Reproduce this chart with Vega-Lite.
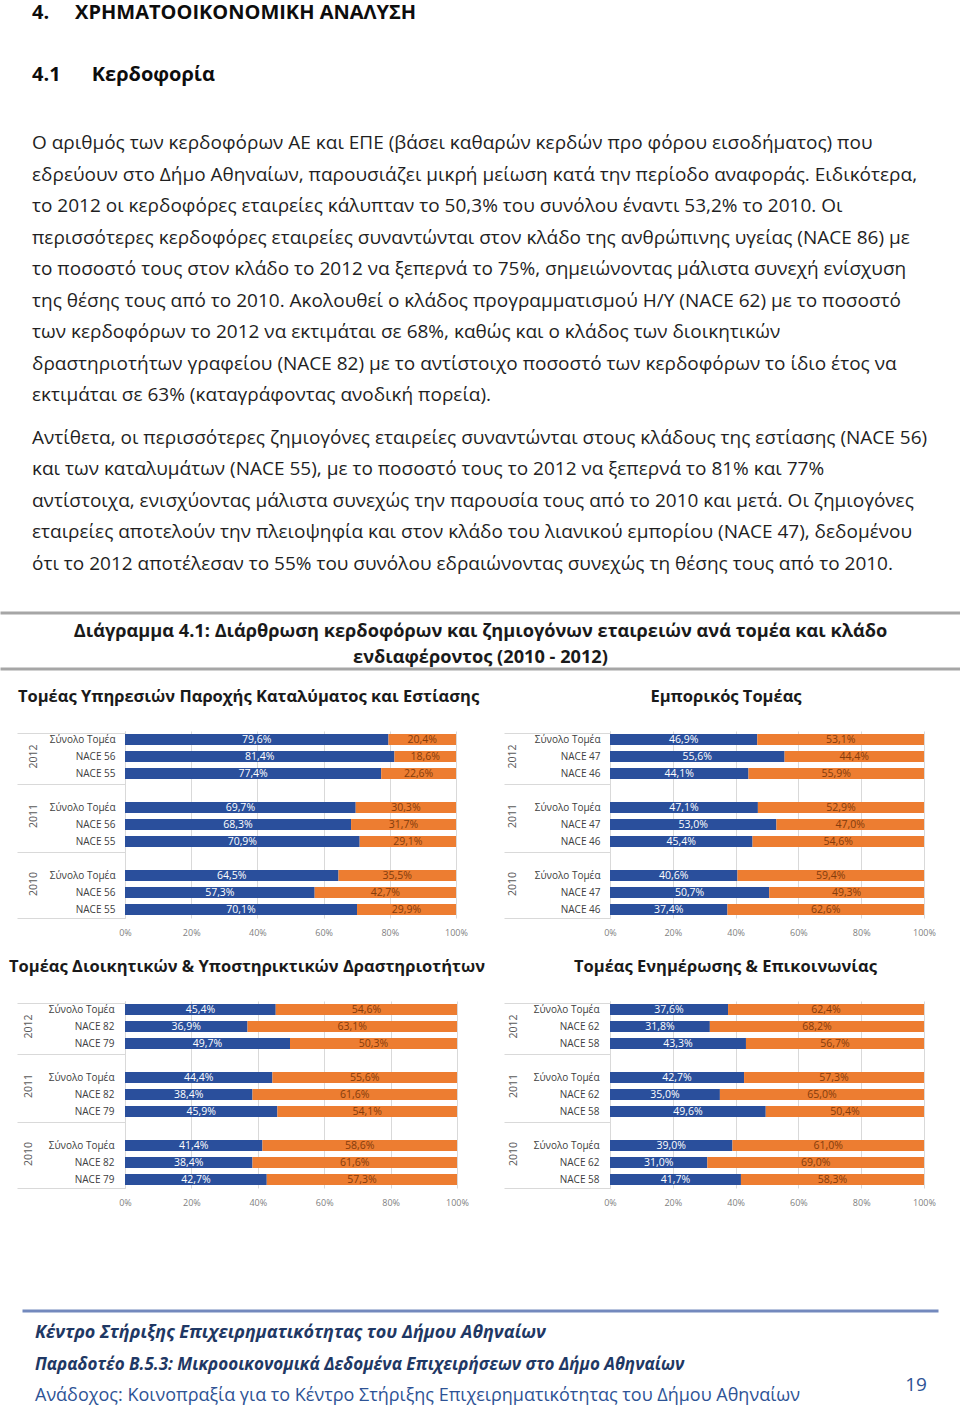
{
  "$schema": "https://vega.github.io/schema/vega-lite/v6.json",
  "background": "white",
  "padding": 0,
  "spacing": 0,
  "config": {
    "font": "Open Sans",
    "view": {"stroke": null},
    "locale": {"number": {"decimal": ",", "thousands": ".", "grouping": [3], "currency": ["", " €"]}}
  },
  "vconcat": [
    {"width": 1, "height": 3, "data": {"values": []}, "mark": "point"},
    {
      "width": 957, "height": 0.01, "data": {"values": []}, "mark": "point",
      "title": {"text": "4.\u00a0\u00a0\u00a0\u00a0\u00a0ΧΡΗΜΑΤΟΟΙΚΟΝΟΜΙΚΗ ΑΝΑΛΥΣΗ", "anchor": "start", "frame": "group", "dx": 30, "offset": 39.8, "fontSize": 20, "fontWeight": "bold", "color": "#0d0d0d"}
    },
    {
      "width": 957, "height": 0.01, "data": {"values": []}, "mark": "point",
      "title": {
        "text": "4.1\u00a0\u00a0\u00a0\u00a0\u00a0\u00a0Κερδοφορία",
        "anchor": "start", "frame": "group", "dx": 30, "offset": 22,
        "fontSize": 20, "fontWeight": "bold", "color": "#0d0d0d",
        "subtitle": [
          "Ο αριθμός των κερδοφόρων ΑΕ και ΕΠΕ (βάσει καθαρών κερδών προ φόρου εισοδήματος) που",
          "εδρεύουν στο Δήμο Αθηναίων, παρουσιάζει μικρή μείωση κατά την περίοδο αναφοράς. Ειδικότερα,",
          "το 2012 οι κερδοφόρες εταιρείες κάλυπταν το 50,3% του συνόλου έναντι 53,2% το 2010. Οι",
          "περισσότερες κερδοφόρες εταιρείες συναντώνται στον κλάδο της ανθρώπινης υγείας (NACE 86) με",
          "το ποσοστό τους στον κλάδο το 2012 να ξεπερνά το 75%, σημειώνοντας μάλιστα συνεχή ενίσχυση",
          "της θέσης τους από το 2010. Ακολουθεί ο κλάδος προγραμματισμού Η/Υ (NACE 62) με το ποσοστό",
          "των κερδοφόρων το 2012 να εκτιμάται σε 68%, καθώς και ο κλάδος των διοικητικών",
          "δραστηριοτήτων γραφείου (NACE 82) με το αντίστοιχο ποσοστό των κερδοφόρων το ίδιο έτος να",
          "εκτιμάται σε 63% (καταγράφοντας ανοδική πορεία)."
        ],
        "subtitleFont": "Open Sans", "subtitleFontSize": 19, "subtitleColor": "#1f1f1f",
        "subtitleLineHeight": 31.5, "subtitlePadding": 49.5
      }
    },
    {
      "width": 957, "height": 0.01, "data": {"values": []}, "mark": "point",
      "title": {
        "text": [
          "Αντίθετα, οι περισσότερες ζημιογόνες εταιρείες συναντώνται στους κλάδους της εστίασης (NACE 56)",
          "και των καταλυμάτων (NACE 55), με το ποσοστό τους το 2012 να ξεπερνά το 81% και 77%",
          "αντίστοιχα, ενισχύοντας μάλιστα συνεχώς την παρουσία τους από το 2010 και μετά. Οι ζημιογόνες",
          "εταιρείες αποτελούν την πλειοψηφία και στον κλάδο του λιανικού εμπορίου (NACE 47), δεδομένου",
          "ότι το 2012 αποτέλεσαν το 55% του συνόλου εδραιώνοντας συνεχώς τη θέσης τους από το 2010."
        ],
        "anchor": "start", "frame": "group", "dx": 30, "offset": 36.2,
        "fontSize": 19, "fontWeight": "normal", "color": "#1f1f1f", "lineHeight": 31.5
      }
    },
    {"width": 957, "height": 0.01, "data": {"values": []}, "mark": "point", "view": {"stroke": "#a6a6a6", "strokeWidth": 3}},
    {"width": 1, "height": 4.2, "data": {"values": []}, "mark": "point"},
    {
      "width": 957, "height": 0.01, "data": {"values": []}, "mark": "point",
      "view": {"stroke": "#a6a6a6", "strokeWidth": 3},
      "title": {
        "text": ["Διάγραμμα 4.1: Διάρθρωση κερδοφόρων και ζημιογόνων εταιρειών ανά τομέα και κλάδο", "ενδιαφέροντος (2010 - 2012)"],
        "anchor": "middle", "frame": "group", "offset": 2.3,
        "fontSize": 18.2, "fontWeight": "bold", "color": "#1a1a1a", "lineHeight": 26
      }
    },
    {"width": 1, "height": 16.9, "data": {"values": []}, "mark": "point"},
    {
      "bounds": "flush", "spacing": 0,
      "hconcat": [
        {"width": 123, "height": 0.01, "data": {"values": []}, "mark": "point"},
        {
          "width": 331, "height": 187,
          "title": {"text": "Τομέας Υπηρεσιών Παροχής Καταλύματος και Εστίασης", "anchor": "middle", "frame": "group", "dx": -42, "offset": 25.6, "fontSize": 16.5, "fontWeight": "bold", "color": "#1a1a1a"},
          "data": {"values": [
            {"key": "2012|Σύνολο Τομέα", "result": "κερδοφόρες", "share": 0.796},
            {"key": "2012|Σύνολο Τομέα", "result": "ζημιογόνες", "share": 0.204},
            {"key": "2012|NACE 56", "result": "κερδοφόρες", "share": 0.814},
            {"key": "2012|NACE 56", "result": "ζημιογόνες", "share": 0.186},
            {"key": "2012|NACE 55", "result": "κερδοφόρες", "share": 0.774},
            {"key": "2012|NACE 55", "result": "ζημιογόνες", "share": 0.226},
            {"key": "2011|Σύνολο Τομέα", "result": "κερδοφόρες", "share": 0.697},
            {"key": "2011|Σύνολο Τομέα", "result": "ζημιογόνες", "share": 0.303},
            {"key": "2011|NACE 56", "result": "κερδοφόρες", "share": 0.683},
            {"key": "2011|NACE 56", "result": "ζημιογόνες", "share": 0.317},
            {"key": "2011|NACE 55", "result": "κερδοφόρες", "share": 0.709},
            {"key": "2011|NACE 55", "result": "ζημιογόνες", "share": 0.291},
            {"key": "2010|Σύνολο Τομέα", "result": "κερδοφόρες", "share": 0.645},
            {"key": "2010|Σύνολο Τομέα", "result": "ζημιογόνες", "share": 0.355},
            {"key": "2010|NACE 56", "result": "κερδοφόρες", "share": 0.573},
            {"key": "2010|NACE 56", "result": "ζημιογόνες", "share": 0.427},
            {"key": "2010|NACE 55", "result": "κερδοφόρες", "share": 0.701},
            {"key": "2010|NACE 55", "result": "ζημιογόνες", "share": 0.299}
          ]},
          "resolve": {"axis": {"y": "independent"}},
          "layer": [
            {
              "mark": {"type": "bar"},
              "encoding": {
                "y": {"field": "key", "type": "nominal",
                  "scale": {"domain": ["2012|Σύνολο Τομέα", "2012|NACE 56", "2012|NACE 55", "2011", "2011|Σύνολο Τομέα", "2011|NACE 56", "2011|NACE 55", "2010", "2010|Σύνολο Τομέα", "2010|NACE 56", "2010|NACE 55"], "paddingInner": 0.35, "paddingOuter": 0.175},
                  "axis": {"orient": "left", "title": null, "bandPosition": 1, "tickOffset": 3, "labelOffset": -3, "domain": true, "domainColor": "#d9d9d9", "ticks": true, "tickSize": 108, "tickColor": "#d9d9d9", "tickOpacity": {"condition": {"test": "datum.value == '2010|NACE 55'", "value": 1}, "value": 0}, "labelExpr": "indexof(datum.value, '|') > 0 ? split(datum.value, '|')[1] : ''", "labelPadding": -98, "labelAlign": "right", "labelBaseline": "middle", "labelFontSize": 10, "labelColor": "#404040"}},
                "x": {"field": "share", "type": "quantitative", "stack": "zero", "scale": {"domain": [0, 1]},
                  "axis": {"title": null, "format": ".0%", "values": [0, 0.2, 0.4, 0.6, 0.8, 1], "labelFlush": false, "grid": true, "gridColor": "#d9d9d9", "domain": false, "ticks": false, "labelPadding": 10, "labelFontSize": 9, "labelColor": "#7f7f7f"}},
                "color": {"field": "result", "type": "nominal", "scale": {"domain": ["κερδοφόρες", "ζημιογόνες"], "range": ["#2a4f9c", "#ed7d31"]}, "legend": null},
                "order": {"field": "result", "sort": "descending"}
              }
            },
            {
              "mark": {"type": "text", "fontSize": 10.5},
              "encoding": {
                "y": {"field": "key", "type": "nominal",
                  "axis": {"orient": "left", "title": null, "values": ["2012|Σύνολο Τομέα", "2011", "2010"], "bandPosition": 0, "domain": false, "ticks": true, "tickSize": 108, "tickColor": "#d9d9d9", "labelExpr": "slice(datum.value, 0, 4)", "labelAngle": -90, "labelAlign": "center", "labelBaseline": "middle", "labelPadding": -16, "labelOffset": {"condition": {"test": "datum.value == '2012|Σύνολο Τομέα'", "value": 17}, "value": 25.5}, "labelFontSize": 10.5, "labelColor": "#595959"}},
                "x": {"field": "share", "type": "quantitative", "stack": "zero", "bandPosition": 0.5},
                "detail": {"field": "result"},
                "order": {"field": "result", "sort": "descending"},
                "text": {"field": "share", "type": "quantitative", "format": ".1%"},
                "color": {"condition": {"test": "datum.result == 'κερδοφόρες'", "value": "#ffffff"}, "value": "#843c0c"}
              }
            }
          ]
        },
        {"width": 154, "height": 0.01, "data": {"values": []}, "mark": "point"},
        {
          "width": 314, "height": 187,
          "title": {"text": "Εμπορικός Τομέας", "anchor": "middle", "frame": "group", "dx": -41, "offset": 25.6, "fontSize": 16.5, "fontWeight": "bold", "color": "#1a1a1a"},
          "data": {"values": [
            {"key": "2012|Σύνολο Τομέα", "result": "κερδοφόρες", "share": 0.469},
            {"key": "2012|Σύνολο Τομέα", "result": "ζημιογόνες", "share": 0.531},
            {"key": "2012|NACE 47", "result": "κερδοφόρες", "share": 0.556},
            {"key": "2012|NACE 47", "result": "ζημιογόνες", "share": 0.444},
            {"key": "2012|NACE 46", "result": "κερδοφόρες", "share": 0.441},
            {"key": "2012|NACE 46", "result": "ζημιογόνες", "share": 0.559},
            {"key": "2011|Σύνολο Τομέα", "result": "κερδοφόρες", "share": 0.471},
            {"key": "2011|Σύνολο Τομέα", "result": "ζημιογόνες", "share": 0.529},
            {"key": "2011|NACE 47", "result": "κερδοφόρες", "share": 0.530},
            {"key": "2011|NACE 47", "result": "ζημιογόνες", "share": 0.470},
            {"key": "2011|NACE 46", "result": "κερδοφόρες", "share": 0.454},
            {"key": "2011|NACE 46", "result": "ζημιογόνες", "share": 0.546},
            {"key": "2010|Σύνολο Τομέα", "result": "κερδοφόρες", "share": 0.406},
            {"key": "2010|Σύνολο Τομέα", "result": "ζημιογόνες", "share": 0.594},
            {"key": "2010|NACE 47", "result": "κερδοφόρες", "share": 0.507},
            {"key": "2010|NACE 47", "result": "ζημιογόνες", "share": 0.493},
            {"key": "2010|NACE 46", "result": "κερδοφόρες", "share": 0.374},
            {"key": "2010|NACE 46", "result": "ζημιογόνες", "share": 0.626}
          ]},
          "resolve": {"axis": {"y": "independent"}},
          "layer": [
            {
              "mark": {"type": "bar"},
              "encoding": {
                "y": {"field": "key", "type": "nominal",
                  "scale": {"domain": ["2012|Σύνολο Τομέα", "2012|NACE 47", "2012|NACE 46", "2011", "2011|Σύνολο Τομέα", "2011|NACE 47", "2011|NACE 46", "2010", "2010|Σύνολο Τομέα", "2010|NACE 47", "2010|NACE 46"], "paddingInner": 0.35, "paddingOuter": 0.175},
                  "axis": {"orient": "left", "title": null, "bandPosition": 1, "tickOffset": 3, "labelOffset": -3, "domain": true, "domainColor": "#d9d9d9", "ticks": true, "tickSize": 106, "tickColor": "#d9d9d9", "tickOpacity": {"condition": {"test": "datum.value == '2010|NACE 46'", "value": 1}, "value": 0}, "labelExpr": "indexof(datum.value, '|') > 0 ? split(datum.value, '|')[1] : ''", "labelPadding": -96, "labelAlign": "right", "labelBaseline": "middle", "labelFontSize": 10, "labelColor": "#404040"}},
                "x": {"field": "share", "type": "quantitative", "stack": "zero", "scale": {"domain": [0, 1]},
                  "axis": {"title": null, "format": ".0%", "values": [0, 0.2, 0.4, 0.6, 0.8, 1], "labelFlush": false, "grid": true, "gridColor": "#d9d9d9", "domain": false, "ticks": false, "labelPadding": 10, "labelFontSize": 9, "labelColor": "#7f7f7f"}},
                "color": {"field": "result", "type": "nominal", "scale": {"domain": ["κερδοφόρες", "ζημιογόνες"], "range": ["#2a4f9c", "#ed7d31"]}, "legend": null},
                "order": {"field": "result", "sort": "descending"}
              }
            },
            {
              "mark": {"type": "text", "fontSize": 10.5},
              "encoding": {
                "y": {"field": "key", "type": "nominal",
                  "axis": {"orient": "left", "title": null, "values": ["2012|Σύνολο Τομέα", "2011", "2010"], "bandPosition": 0, "domain": false, "ticks": true, "tickSize": 106, "tickColor": "#d9d9d9", "labelExpr": "slice(datum.value, 0, 4)", "labelAngle": -90, "labelAlign": "center", "labelBaseline": "middle", "labelPadding": -8, "labelOffset": {"condition": {"test": "datum.value == '2012|Σύνολο Τομέα'", "value": 17}, "value": 25.5}, "labelFontSize": 10.5, "labelColor": "#595959"}},
                "x": {"field": "share", "type": "quantitative", "stack": "zero", "bandPosition": 0.5},
                "detail": {"field": "result"},
                "order": {"field": "result", "sort": "descending"},
                "text": {"field": "share", "type": "quantitative", "format": ".1%"},
                "color": {"condition": {"test": "datum.result == 'κερδοφόρες'", "value": "#ffffff"}, "value": "#843c0c"}
              }
            }
          ]
        }
      ]
    },
    {"width": 1, "height": 20.9, "data": {"values": []}, "mark": "point"},
    {
      "bounds": "flush", "spacing": 0,
      "hconcat": [
        {"width": 123, "height": 0.01, "data": {"values": []}, "mark": "point"},
        {
          "width": 332, "height": 187,
          "title": {"text": "Τομέας Διοικητικών & Υποστηρικτικών Δραστηριοτήτων", "anchor": "middle", "frame": "group", "dx": -44, "offset": 25.6, "fontSize": 16.5, "fontWeight": "bold", "color": "#1a1a1a"},
          "data": {"values": [
            {"key": "2012|Σύνολο Τομέα", "result": "κερδοφόρες", "share": 0.454},
            {"key": "2012|Σύνολο Τομέα", "result": "ζημιογόνες", "share": 0.546},
            {"key": "2012|NACE 82", "result": "κερδοφόρες", "share": 0.369},
            {"key": "2012|NACE 82", "result": "ζημιογόνες", "share": 0.631},
            {"key": "2012|NACE 79", "result": "κερδοφόρες", "share": 0.497},
            {"key": "2012|NACE 79", "result": "ζημιογόνες", "share": 0.503},
            {"key": "2011|Σύνολο Τομέα", "result": "κερδοφόρες", "share": 0.444},
            {"key": "2011|Σύνολο Τομέα", "result": "ζημιογόνες", "share": 0.556},
            {"key": "2011|NACE 82", "result": "κερδοφόρες", "share": 0.384},
            {"key": "2011|NACE 82", "result": "ζημιογόνες", "share": 0.616},
            {"key": "2011|NACE 79", "result": "κερδοφόρες", "share": 0.459},
            {"key": "2011|NACE 79", "result": "ζημιογόνες", "share": 0.541},
            {"key": "2010|Σύνολο Τομέα", "result": "κερδοφόρες", "share": 0.414},
            {"key": "2010|Σύνολο Τομέα", "result": "ζημιογόνες", "share": 0.586},
            {"key": "2010|NACE 82", "result": "κερδοφόρες", "share": 0.384},
            {"key": "2010|NACE 82", "result": "ζημιογόνες", "share": 0.616},
            {"key": "2010|NACE 79", "result": "κερδοφόρες", "share": 0.427},
            {"key": "2010|NACE 79", "result": "ζημιογόνες", "share": 0.573}
          ]},
          "resolve": {"axis": {"y": "independent"}},
          "layer": [
            {
              "mark": {"type": "bar"},
              "encoding": {
                "y": {"field": "key", "type": "nominal",
                  "scale": {"domain": ["2012|Σύνολο Τομέα", "2012|NACE 82", "2012|NACE 79", "2011", "2011|Σύνολο Τομέα", "2011|NACE 82", "2011|NACE 79", "2010", "2010|Σύνολο Τομέα", "2010|NACE 82", "2010|NACE 79"], "paddingInner": 0.35, "paddingOuter": 0.175},
                  "axis": {"orient": "left", "title": null, "bandPosition": 1, "tickOffset": 3, "labelOffset": -3, "domain": true, "domainColor": "#d9d9d9", "ticks": true, "tickSize": 108, "tickColor": "#d9d9d9", "tickOpacity": {"condition": {"test": "datum.value == '2010|NACE 79'", "value": 1}, "value": 0}, "labelExpr": "indexof(datum.value, '|') > 0 ? split(datum.value, '|')[1] : ''", "labelPadding": -97, "labelAlign": "right", "labelBaseline": "middle", "labelFontSize": 10, "labelColor": "#404040"}},
                "x": {"field": "share", "type": "quantitative", "stack": "zero", "scale": {"domain": [0, 1]},
                  "axis": {"title": null, "format": ".0%", "values": [0, 0.2, 0.4, 0.6, 0.8, 1], "labelFlush": false, "grid": true, "gridColor": "#d9d9d9", "domain": false, "ticks": false, "labelPadding": 10, "labelFontSize": 9, "labelColor": "#7f7f7f"}},
                "color": {"field": "result", "type": "nominal", "scale": {"domain": ["κερδοφόρες", "ζημιογόνες"], "range": ["#2a4f9c", "#ed7d31"]}, "legend": null},
                "order": {"field": "result", "sort": "descending"}
              }
            },
            {
              "mark": {"type": "text", "fontSize": 10.5},
              "encoding": {
                "y": {"field": "key", "type": "nominal",
                  "axis": {"orient": "left", "title": null, "values": ["2012|Σύνολο Τομέα", "2011", "2010"], "bandPosition": 0, "domain": false, "ticks": true, "tickSize": 108, "tickColor": "#d9d9d9", "labelExpr": "slice(datum.value, 0, 4)", "labelAngle": -90, "labelAlign": "center", "labelBaseline": "middle", "labelPadding": -11, "labelOffset": {"condition": {"test": "datum.value == '2012|Σύνολο Τομέα'", "value": 17}, "value": 25.5}, "labelFontSize": 10.5, "labelColor": "#595959"}},
                "x": {"field": "share", "type": "quantitative", "stack": "zero", "bandPosition": 0.5},
                "detail": {"field": "result"},
                "order": {"field": "result", "sort": "descending"},
                "text": {"field": "share", "type": "quantitative", "format": ".1%"},
                "color": {"condition": {"test": "datum.result == 'κερδοφόρες'", "value": "#ffffff"}, "value": "#843c0c"}
              }
            }
          ]
        },
        {"width": 153, "height": 0.01, "data": {"values": []}, "mark": "point"},
        {
          "width": 314, "height": 187,
          "title": {"text": "Τομέας Ενημέρωσης & Επικοινωνίας", "anchor": "middle", "frame": "group", "dx": -41.5, "offset": 25.6, "fontSize": 16.5, "fontWeight": "bold", "color": "#1a1a1a"},
          "data": {"values": [
            {"key": "2012|Σύνολο Τομέα", "result": "κερδοφόρες", "share": 0.376},
            {"key": "2012|Σύνολο Τομέα", "result": "ζημιογόνες", "share": 0.624},
            {"key": "2012|NACE 62", "result": "κερδοφόρες", "share": 0.318},
            {"key": "2012|NACE 62", "result": "ζημιογόνες", "share": 0.682},
            {"key": "2012|NACE 58", "result": "κερδοφόρες", "share": 0.433},
            {"key": "2012|NACE 58", "result": "ζημιογόνες", "share": 0.567},
            {"key": "2011|Σύνολο Τομέα", "result": "κερδοφόρες", "share": 0.427},
            {"key": "2011|Σύνολο Τομέα", "result": "ζημιογόνες", "share": 0.573},
            {"key": "2011|NACE 62", "result": "κερδοφόρες", "share": 0.350},
            {"key": "2011|NACE 62", "result": "ζημιογόνες", "share": 0.650},
            {"key": "2011|NACE 58", "result": "κερδοφόρες", "share": 0.496},
            {"key": "2011|NACE 58", "result": "ζημιογόνες", "share": 0.504},
            {"key": "2010|Σύνολο Τομέα", "result": "κερδοφόρες", "share": 0.390},
            {"key": "2010|Σύνολο Τομέα", "result": "ζημιογόνες", "share": 0.610},
            {"key": "2010|NACE 62", "result": "κερδοφόρες", "share": 0.310},
            {"key": "2010|NACE 62", "result": "ζημιογόνες", "share": 0.690},
            {"key": "2010|NACE 58", "result": "κερδοφόρες", "share": 0.417},
            {"key": "2010|NACE 58", "result": "ζημιογόνες", "share": 0.583}
          ]},
          "resolve": {"axis": {"y": "independent"}},
          "layer": [
            {
              "mark": {"type": "bar"},
              "encoding": {
                "y": {"field": "key", "type": "nominal",
                  "scale": {"domain": ["2012|Σύνολο Τομέα", "2012|NACE 62", "2012|NACE 58", "2011", "2011|Σύνολο Τομέα", "2011|NACE 62", "2011|NACE 58", "2010", "2010|Σύνολο Τομέα", "2010|NACE 62", "2010|NACE 58"], "paddingInner": 0.35, "paddingOuter": 0.175},
                  "axis": {"orient": "left", "title": null, "bandPosition": 1, "tickOffset": 3, "labelOffset": -3, "domain": true, "domainColor": "#d9d9d9", "ticks": true, "tickSize": 106, "tickColor": "#d9d9d9", "tickOpacity": {"condition": {"test": "datum.value == '2010|NACE 58'", "value": 1}, "value": 0}, "labelExpr": "indexof(datum.value, '|') > 0 ? split(datum.value, '|')[1] : ''", "labelPadding": -95, "labelAlign": "right", "labelBaseline": "middle", "labelFontSize": 10, "labelColor": "#404040"}},
                "x": {"field": "share", "type": "quantitative", "stack": "zero", "scale": {"domain": [0, 1]},
                  "axis": {"title": null, "format": ".0%", "values": [0, 0.2, 0.4, 0.6, 0.8, 1], "labelFlush": false, "grid": true, "gridColor": "#d9d9d9", "domain": false, "ticks": false, "labelPadding": 10, "labelFontSize": 9, "labelColor": "#7f7f7f"}},
                "color": {"field": "result", "type": "nominal", "scale": {"domain": ["κερδοφόρες", "ζημιογόνες"], "range": ["#2a4f9c", "#ed7d31"]}, "legend": null},
                "order": {"field": "result", "sort": "descending"}
              }
            },
            {
              "mark": {"type": "text", "fontSize": 10.5},
              "encoding": {
                "y": {"field": "key", "type": "nominal",
                  "axis": {"orient": "left", "title": null, "values": ["2012|Σύνολο Τομέα", "2011", "2010"], "bandPosition": 0, "domain": false, "ticks": true, "tickSize": 106, "tickColor": "#d9d9d9", "labelExpr": "slice(datum.value, 0, 4)", "labelAngle": -90, "labelAlign": "center", "labelBaseline": "middle", "labelPadding": -9, "labelOffset": {"condition": {"test": "datum.value == '2012|Σύνολο Τομέα'", "value": 17}, "value": 25.5}, "labelFontSize": 10.5, "labelColor": "#595959"}},
                "x": {"field": "share", "type": "quantitative", "stack": "zero", "bandPosition": 0.5},
                "detail": {"field": "result"},
                "order": {"field": "result", "sort": "descending"},
                "text": {"field": "share", "type": "quantitative", "format": ".1%"},
                "color": {"condition": {"test": "datum.result == 'κερδοφόρες'", "value": "#ffffff"}, "value": "#843c0c"}
              }
            }
          ]
        }
      ]
    },
    {"width": 1, "height": 102, "data": {"values": []}, "mark": "point"},
    {
      "bounds": "flush", "spacing": 0,
      "hconcat": [
        {"width": 22, "height": 0.01, "data": {"values": []}, "mark": "point"},
        {"width": 913, "height": 0.01, "data": {"values": []}, "mark": "point", "view": {"stroke": "#7389bd", "strokeWidth": 3}}
      ]
    },
    {"width": 1, "height": 10.2, "data": {"values": []}, "mark": "point"},
    {
      "width": 913, "height": 0.01, "data": {"values": []}, "mark": "point",
      "title": {
        "text": "Κέντρο Στήριξης Επιχειρηματικότητας του Δήμου Αθηναίων",
        "anchor": "start", "frame": "group", "dx": 33, "offset": 1.1,
        "fontSize": 18, "fontWeight": "bold", "fontStyle": "italic", "color": "#1f3864",
        "subtitle": "Παραδοτέο Β.5.3: Μικροοικονομικά Δεδομένα Επιχειρήσεων στο Δήμο Αθηναίων",
        "subtitleFont": "Open Sans", "subtitleFontSize": 17, "subtitleFontWeight": "bold", "subtitleFontStyle": "italic", "subtitleColor": "#1f3864", "subtitlePadding": 14.5
      }
    },
    {
      "bounds": "flush", "spacing": 0,
      "hconcat": [
        {
          "width": 903, "height": 0.01, "data": {"values": []}, "mark": "point",
          "title": {"text": "Ανάδοχος: Κοινοπραξία για το Κέντρο Στήριξης Επιχειρηματικότητας του Δήμου Αθηναίων", "anchor": "start", "frame": "group", "dx": 33, "offset": 1, "fontSize": 18, "fontWeight": "normal", "color": "#2e5395"}
        },
        {
          "width": 22, "height": 0.01, "data": {"values": []}, "mark": "point",
          "title": {"text": "19", "anchor": "middle", "frame": "group", "offset": 11.4, "fontSize": 19, "fontWeight": "normal", "color": "#2e5395"}
        }
      ]
    }
  ]
}
